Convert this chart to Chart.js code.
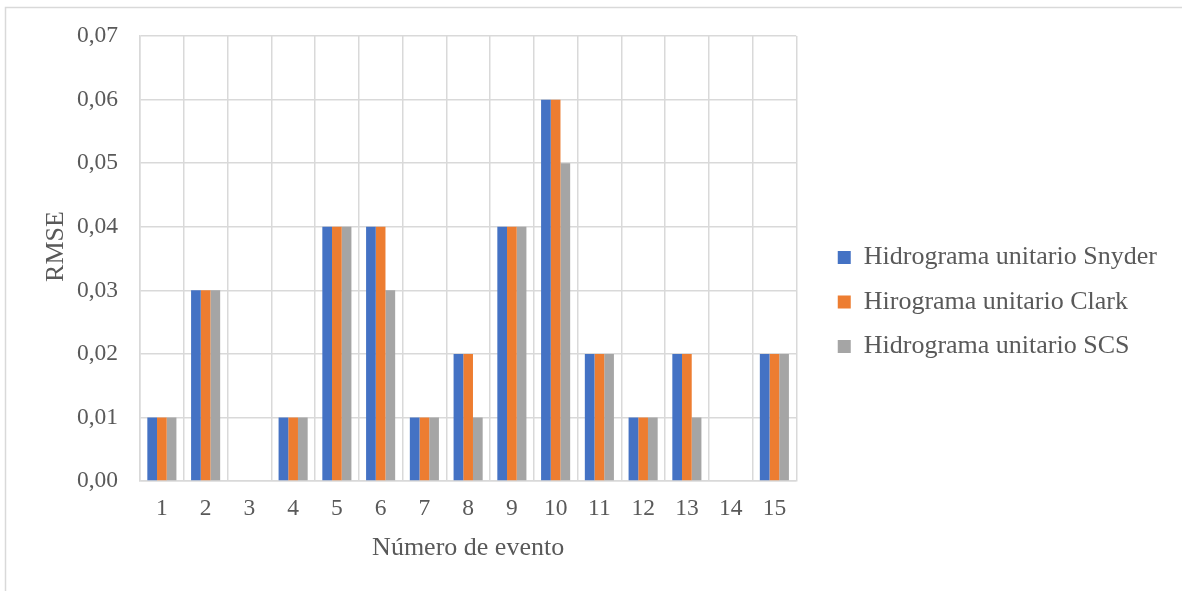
<!DOCTYPE html>
<html>
<head>
<meta charset="utf-8">
<script src="https://cdn.jsdelivr.net/npm/chart.js@4"></script>
<style>
  html, body { margin: 0; padding: 0; background: #fff; }
  #wrap { width: 1182px; height: 591px; position: relative; }
</style>
</head>
<body>
<div id="wrap"><canvas id="c" width="1182" height="591"></canvas></div>
<script>
// Event numbers
const eventos = ['1','2','3','4','5','6','7','8','9','10','11','12','13','14','15'];

// RMSE per event for each unit hydrograph method
const snyder = [0.01, 0.03, 0, 0.01, 0.04, 0.04, 0.01, 0.02, 0.04, 0.06, 0.02, 0.01, 0.02, 0, 0.02];
const clark  = [0.01, 0.03, 0, 0.01, 0.04, 0.04, 0.01, 0.02, 0.04, 0.06, 0.02, 0.01, 0.02, 0, 0.02];
const scs    = [0.01, 0.03, 0, 0.01, 0.04, 0.03, 0.01, 0.01, 0.04, 0.05, 0.02, 0.01, 0.01, 0, 0.02];

// Y axis tick labels (comma decimal)
const yTicks = ['0,00', '0,01', '0,02', '0,03', '0,04', '0,05', '0,06', '0,07'];

const FONT = 'Liberation Serif, "Times New Roman", serif';
const TXT = '#595959';
const GRID = '#d9d9d9';

// Thin frame along the top and left of the figure
const framePlugin = {
  id: 'frame',
  beforeDraw(chart) {
    const ctx = chart.ctx;
    ctx.save();
    ctx.strokeStyle = GRID;
    ctx.lineWidth = 1.5;
    ctx.beginPath();
    ctx.moveTo(5.5, chart.height);
    ctx.lineTo(5.5, 7.5);
    ctx.lineTo(chart.width, 7.5);
    ctx.stroke();
    ctx.restore();
  }
};

// Move the legend away from the plot area and let its labels run to the canvas edge;
// raise the y axis title slightly
const layoutTweaks = {
  id: 'layoutTweaks',
  afterLayout(chart) {
    const lg = chart.legend;
    if (lg) {
      lg.left += 23;
      lg.right = chart.width;
      lg.width = lg.right - lg.left;
      lg.top += 6; lg.bottom += 6;
    }
    const ys = chart.scales.y;
    if (ys && !ys._titleRaised) {
      const orig = ys.drawTitle;
      ys.drawTitle = function () {
        const c = this.ctx;
        c.save();
        c.translate(0, -12);
        orig.call(this);
        c.restore();
      };
      ys._titleRaised = true;
    }
  }
};

Chart.defaults.font.family = FONT;
Chart.defaults.color = TXT;

new Chart(document.getElementById('c'), {
  type: 'bar',
  data: {
    labels: eventos,
    datasets: [
      { label: 'Hidrograma unitario Snyder', data: snyder, backgroundColor: '#4472C4' },
      { label: 'Hirograma unitario Clark',   data: clark,  backgroundColor: '#ED7D31' },
      { label: 'Hidrograma unitario SCS',    data: scs,    backgroundColor: '#A5A5A5' }
    ]
  },
  options: {
    responsive: false,
    animation: false,
    devicePixelRatio: 1,
    layout: { padding: { left: 41, top: 26, right: 134, bottom: 25 } },
    datasets: { bar: { categoryPercentage: 0.665, barPercentage: 1.0 } },
    plugins: {
      tooltip: { enabled: false },
      legend: {
        position: 'right',
        align: 'center',
        labels: {
          font: { size: 26, family: FONT },
          color: TXT,
          boxWidth: 13,
          boxHeight: 13,
          padding: 18.5
        }
      }
    },
    scales: {
      x: {
        grid: { color: GRID, lineWidth: 1.5, offset: true, drawTicks: false },
        border: { color: GRID, width: 1.5 },
        ticks: { font: { size: 23.5 }, color: TXT, padding: 14 },
        title: { display: true, text: 'Número de evento', font: { size: 26 }, color: TXT, padding: { top: 0, bottom: 2 } },
        afterFit(scale) { scale.height = 85; }
      },
      y: {
        min: 0,
        max: 0.07,
        grid: { color: GRID, lineWidth: 1.5, drawTicks: false },
        border: { color: GRID, width: 1.5 },
        ticks: {
          stepSize: 0.01,
          font: { size: 23.5 },
          color: TXT,
          padding: 22,
          callback: (v, i) => yTicks[i]
        },
        title: { display: true, text: 'RMSE', font: { size: 26 }, color: TXT, padding: { top: 0, bottom: 0 } },
        afterFit(scale) { scale.width = 99; }
      }
    }
  },
  plugins: [framePlugin, layoutTweaks]
});
</script>
</body>
</html>
